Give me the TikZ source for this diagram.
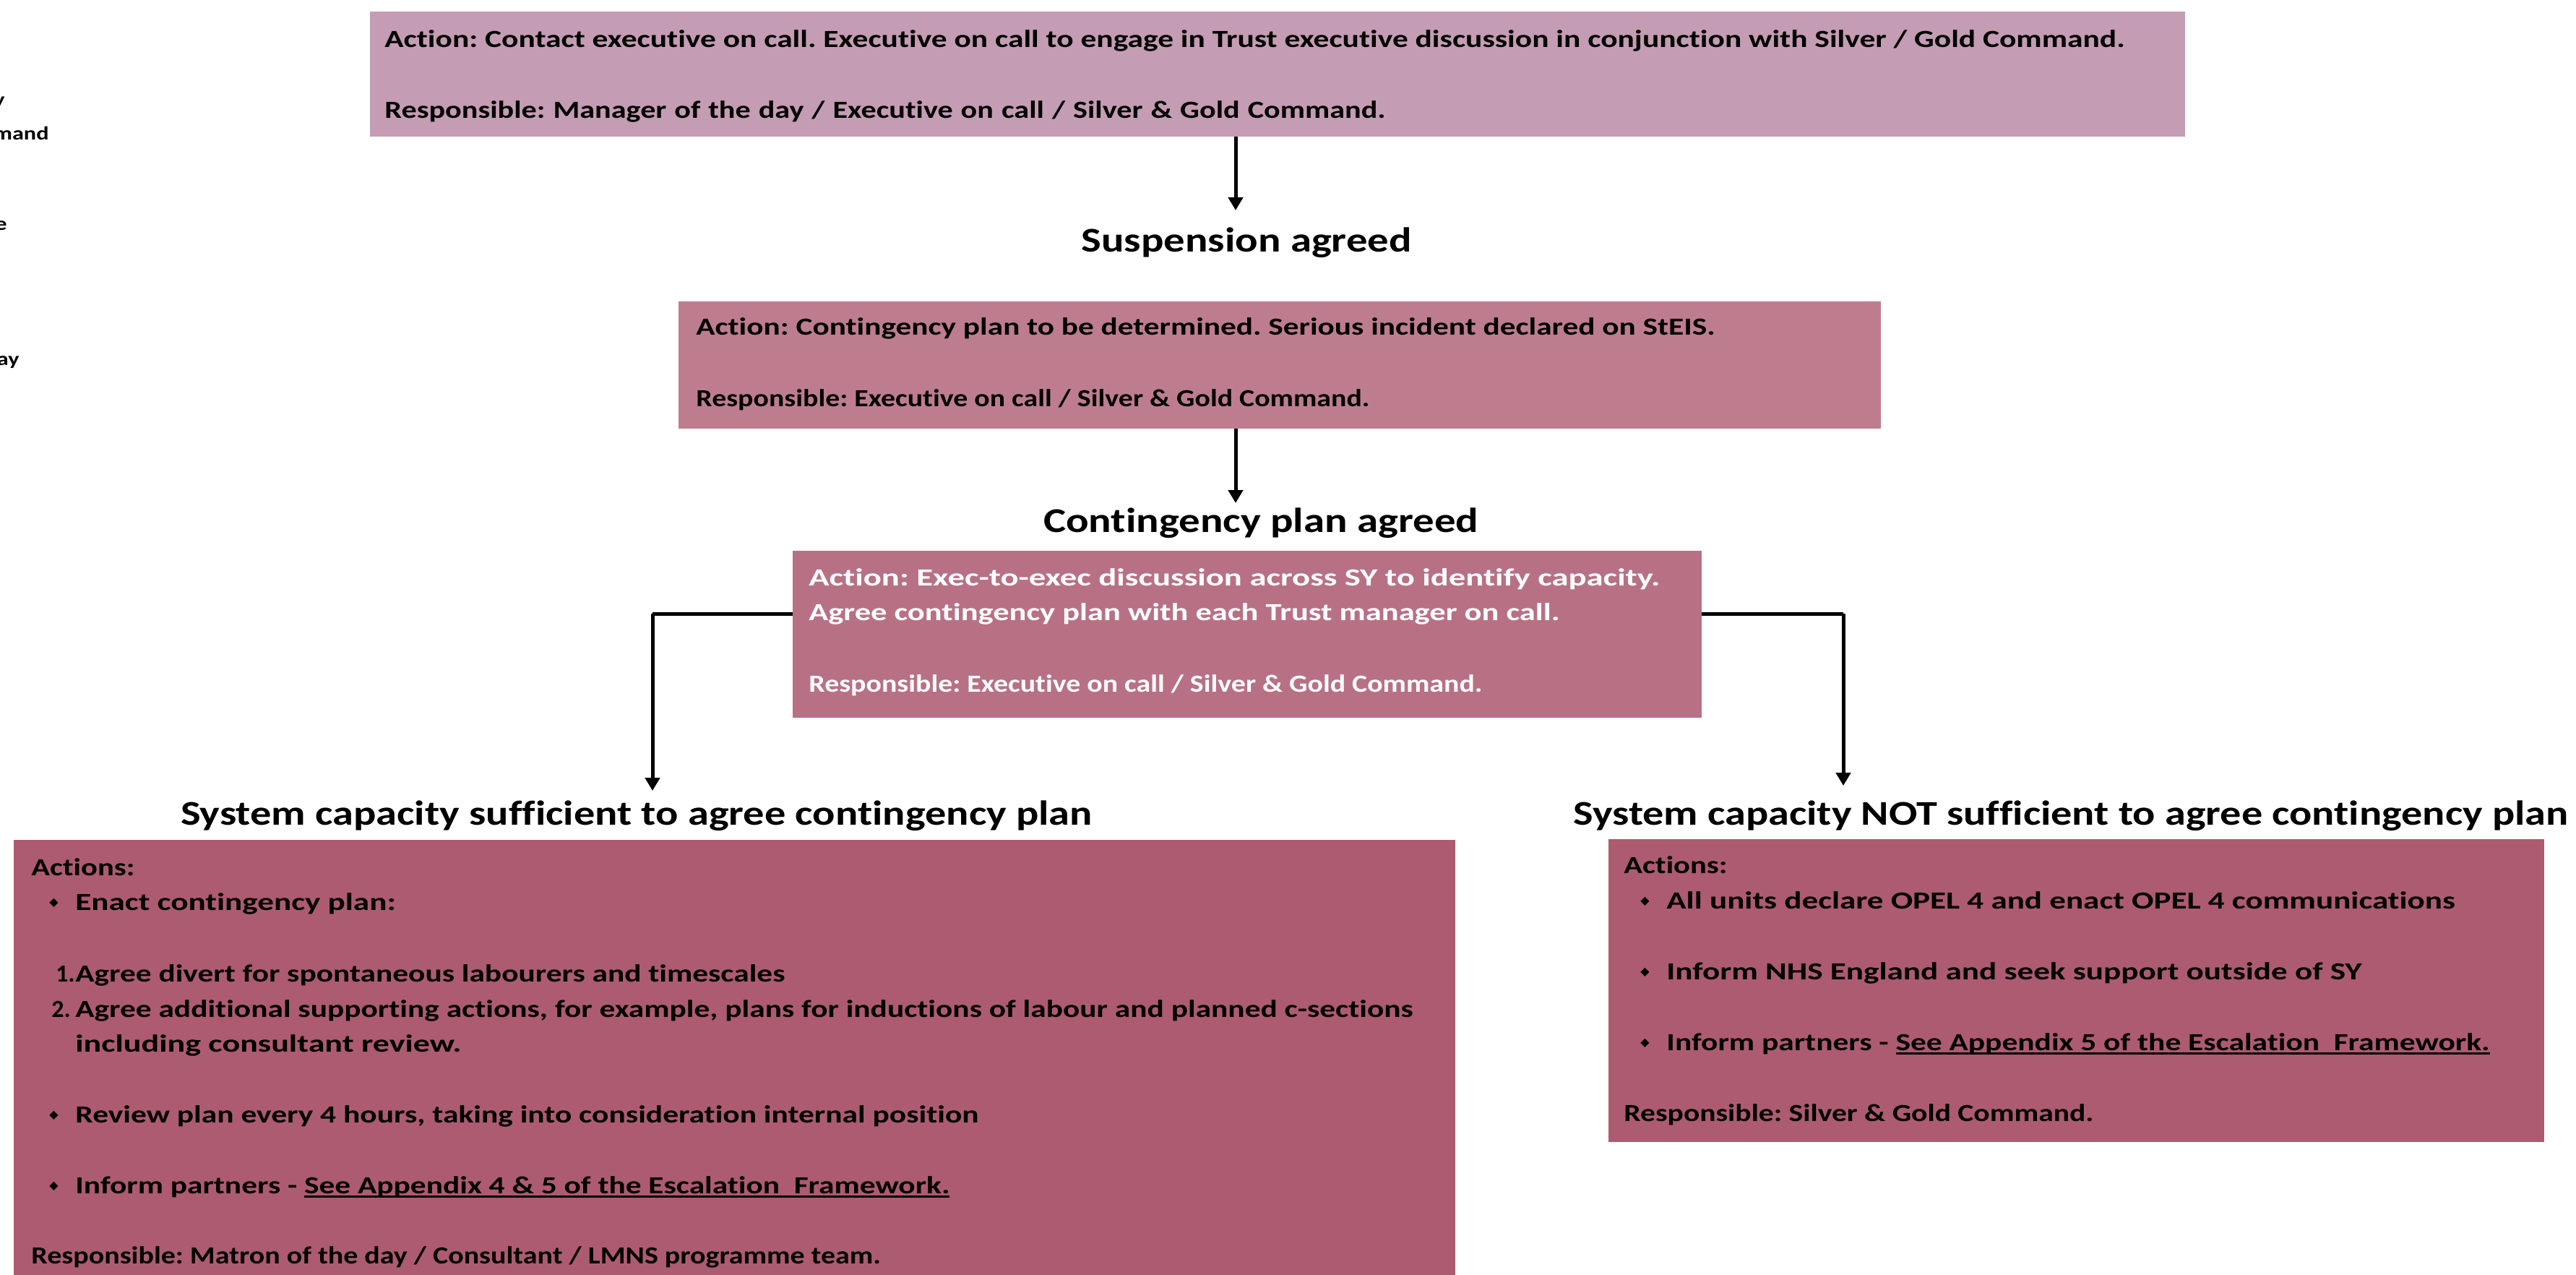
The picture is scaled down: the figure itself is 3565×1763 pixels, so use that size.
\documentclass[tikz,border=0pt]{standalone}
\usepackage{graphicx}
\usepackage{fontspec}
\setmainfont[FakeStretch=1.24,Ligatures=NoCommon]{Carlito}
\newfontfamily\narrowf[Ligatures=NoCommon]{Carlito}
\newfontfamily\symf{DejaVu Sans}
\usetikzlibrary{arrows.meta,fit}
\definecolor{cA}{HTML}{C49CB3}
\definecolor{cB}{HTML}{BE7D8F}
\definecolor{cC}{HTML}{B87184}
\definecolor{cD}{HTML}{AD5B70}
\frenchspacing
\newcommand\bulx{\makebox[18pt][l]{\raisebox{2.6pt}{\symf\fontsize{8}{8}\selectfont ◆}}}
\newcommand\ulx[1]{\setbox0\hbox{#1}\rlap{\rule[-3pt]{\wd0}{1.4pt}}\box0}
\newcommand\wx[2]{\resizebox{#1}{\height}{#2}}
\begin{document}
\begin{tikzpicture}[x=0.5pt,y=-0.5pt,
  box/.style={inner sep=0pt, draw=none, fill=#1},
  body/.style={inner sep=0pt, anchor=base west, font=\bfseries\fontsize{17}{20}\selectfont},
  numf/.style={inner sep=0pt, anchor=base west, font=\narrowf\bfseries\fontsize{17}{20}\selectfont},
  head/.style={inner sep=0pt, anchor=base, font=\bfseries\fontsize{24}{28}\selectfont},
  frag/.style={inner sep=0pt, anchor=base east, font=\bfseries\fontsize{13}{16}\selectfont},
  arr/.style={line width=2.5pt, -{Triangle[width=10pt,length=9pt]}},
  link/.style={line width=2.5pt}]
\useasboundingbox (0,0) rectangle (3565,1763);

% cut-off fragments at left edge
\node[frag] (f1) at (7,146) {y};
\node[frag] (f2) at (68,193) {mand};
\node[frag] (f3) at (10,318) {e};
\node[frag] (f4) at (27,505) {ay};

% boxes
\node[box=cA, fit={(512,16) (3024,189)}] (b1) {};
\node[box=cB, fit={(939,417) (2603,593)}] (b2) {};
\node[box=cC, fit={(1097,762) (2355,993)}] (b3) {};
\node[box=cD, fit={(19,1162) (2014,1775)}] (b4) {};
\node[box=cD, fit={(2226,1161) (3521,1580)}] (b5) {};

% box 1 text
\node[body] (t1a) at (532,65) {\wx{1204pt}{Action: Contact executive on call. Executive on call to engage in Trust executive discussion in conjunction with Silver / Gold Command.}};
\node[body] (t1b) at (532,163) {\makebox[692.5pt][s]{Responsible: Manager of the day / Executive on call / Silver \& Gold Command.}};

% heading 1
\node[head] (h1) at (1725,348) {\wx{228.5pt}{Suspension agreed}};

% box 2 text
\node[body] (t2a) at (963,463) {\wx{705pt}{Action: Contingency plan to be determined. Serious incident declared on StEIS.}};
\node[body] (t2b) at (963,562) {\wx{466pt}{Responsible: Executive on call / Silver \& Gold Command.}};

% heading 2
\node[head] (h2) at (1745,736) {\wx{301pt}{Contingency plan agreed}};

% box 3 text
\node[body, text=white] (t3a) at (1119,810) {\wx{589pt}{Action: Exec-to-exec discussion across SY to identify capacity.}};
\node[body, text=white] (t3b) at (1119,858) {\wx{519.5pt}{Agree contingency plan with each Trust manager on call.}};
\node[body, text=white] (t3c) at (1119,957) {\wx{466pt}{Responsible: Executive on call / Silver \& Gold Command.}};

% headings 3 and 4
\node[head] (h3) at (881,1141) {\wx{631pt}{System capacity sufficient to agree contingency plan}};
\node[head] (h4) at (2866,1141) {\wx{688.5pt}{System capacity NOT sufficient to agree contingency plan}};

% box 4 text
\node[body] (t4a) at (43,1211) {\wx{71.6pt}{Actions:}};
\node[body] (t4b) at (68,1259) {\bulx\wx{221.7pt}{Enact contingency plan:}};
\node[numf] (n41) at (77,1358) {1.};
\node[body] (t4c) at (104,1358) {\wx{491pt}{Agree divert for spontaneous labourers and timescales}};
\node[numf] (n42) at (71,1407) {2.};
\node[body] (t4d) at (104,1407) {\wx{925.5pt}{Agree additional supporting actions, for example, plans for inductions of labour and planned c-sections}};
\node[body] (t4e) at (104,1455) {\wx{267pt}{including consultant review.}};
\node[body] (t4f) at (68,1553) {\bulx\wx{625pt}{Review plan every 4 hours, taking into consideration internal position}};
\node[body] (t4g) at (68,1651) {\bulx\wx{605pt}{Inform partners - \ulx{See Appendix 4 \& 5 of the Escalation \ Framework.}}};
\node[body] (t4h) at (43,1748) {\wx{587.7pt}{Responsible: Matron of the day / Consultant / LMNS programme team.}};

% box 5 text
\node[body] (t5a) at (2247,1208) {\wx{71.6pt}{Actions:}};
\node[body] (t5b) at (2270,1257) {\bulx\wx{545.7pt}{All units declare OPEL 4 and enact OPEL 4 communications}};
\node[body] (t5c) at (2270,1355) {\bulx\wx{481pt}{Inform NHS England and seek support outside of SY}};
\node[body] (t5d) at (2270,1453) {\bulx\wx{569.6pt}{Inform partners - \ulx{See Appendix 5 of the Escalation \ Framework.}}};
\node[body] (t5e) at (2247,1551) {\wx{325pt}{Responsible: Silver \& Gold Command.}};

% connector coordinates
\coordinate (a1e) at (1710,291);
\coordinate (a2e) at (1710,696);
\coordinate (lk) at (903,849);
\coordinate (le) at (903,1094);
\coordinate (rk) at (2551,849);
\coordinate (re) at (2551,1087);

\draw[arr] (b1.south -| a1e) -- (a1e);
\draw[arr] (b2.south -| a2e) -- (a2e);
\draw[link] (b3.west |- lk) -- (lk);
\draw[arr] (lk) -- (le);
\draw[link] (b3.east |- rk) -- (rk);
\draw[arr] (rk) -- (re);
\end{tikzpicture}
\end{document}
